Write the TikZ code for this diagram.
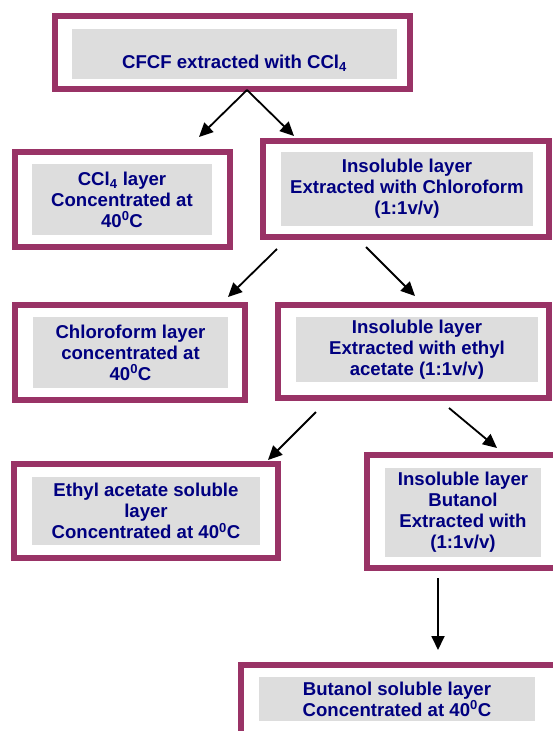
\documentclass[tikz,border=0pt]{standalone}
\usepackage{fontspec}
\setmainfont{Liberation Sans}
\usetikzlibrary{arrows.meta,calc}
\definecolor{frameclr}{HTML}{993366}
\definecolor{shadeclr}{HTML}{DDDDDD}
\definecolor{textclr}{HTML}{000080}

\begin{document}
\begin{tikzpicture}[x=1pt,y=-1pt,
	frame/.style={draw=frameclr, line width=6pt, inner sep=0pt, outer sep=0pt},
	shade/.style={fill=shadeclr, text=textclr, align=center, inner sep=0pt, font=\fontsize{18.6}{21}\selectfont\bfseries},
	arr/.style={line width=1.8pt, -{Triangle[length=14pt,width=13pt]}}]
				\useasboundingbox (0,0) rectangle (553,731);
				\clip (0,0) rectangle (553,731);
				
				% frames
				\node[frame, minimum width=355pt, minimum height=73pt] (topfrm) at (232.5,52.5) {};
				\node[frame, minimum width=215pt, minimum height=95pt] (cclfrm) at (122.5,199.5) {};
				\node[frame, minimum width=286pt, minimum height=96pt] (chlfrm) at (406,189) {};
				\node[frame, minimum width=230pt, minimum height=95pt] (chllayfrm) at (130,352.5) {};
				\node[frame, minimum width=271pt, minimum height=93pt] (etfrm) at (413.5,351.5) {};
				\node[frame, minimum width=264pt, minimum height=94pt] (etlayfrm) at (146,511) {};
				\node[frame, minimum width=193pt, minimum height=113pt] (bufrm) at (463.5,511.5) {};
				\node[frame, minimum width=319pt, minimum height=75pt] (bulayfrm) at (400.5,702.5) {};
				
				% grey boxes
				\node[shade, minimum width=325pt, minimum height=50pt, text height=28pt, text depth=0pt] (topbox) at (234.5,54) {CFCF extracted with CCl\textsubscript{4}};
				\node[shade, minimum width=180pt, minimum height=71pt] (cclbox) at (122,199.5) {CCl\textsubscript{4} layer\\Concentrated at\\40\textsuperscript{0}C};
				\node[shade, minimum width=252pt, minimum height=74pt] (chlbox) at (407,189) {Insoluble layer\\Extracted with Chloroform\\(1:1v/v)};
				\node[shade, minimum width=195pt, minimum height=71pt] (chllaybox) at (130.5,352.5) {Chloroform layer\\concentrated at\\40\textsuperscript{0}C};
				\node[shade, minimum width=242pt, minimum height=65pt] (etbox) at (417,349.5) {Insoluble layer\\Extracted with ethyl\\acetate (1:1v/v)};
				\node[shade, minimum width=228pt, minimum height=68pt] (etlaybox) at (146,511) {Ethyl acetate soluble\\layer\\Concentrated at 40\textsuperscript{0}C};
				\node[shade, minimum width=156pt, minimum height=89pt] (bubox) at (463,512.5) {Insoluble layer\\Butanol\\Extracted with\\(1:1v/v)};
				\node[shade, minimum width=276pt, minimum height=44pt] (bulaybox) at (397,699) {Butanol soluble layer\\Concentrated at 40\textsuperscript{0}C};
				
				% arrows
				\draw[arr] ($(topfrm.south)+(14.5,1)$) -- ($(cclfrm.north east)+(-31,-15)$);
				\draw[arr] ($(topfrm.south)+(14.5,1)$) -- ($(chlfrm.north west)+(31,-5)$);
				\draw[arr] ($(chlfrm.south west)+(14,12)$) -- ($(chllayfrm.north east)+(-17,-8)$);
				\draw[arr] ($(chlfrm.south west)+(103,10)$) -- ($(etfrm.north)+(1.5,-9)$);
				\draw[arr] ($(etfrm.south west)+(38,14)$) -- ($(etlayfrm.north east)+(-10,-4)$);
				\draw[arr] ($(etfrm.south)+(35.5,10)$) -- ($(bufrm.north)+(33.5,-7)$);
				\draw[arr] ($(bufrm.south)+(-25.5,10)$) -- ($(bulayfrm.north)+(37.5,-15)$);
			\end{tikzpicture}
\end{document}
